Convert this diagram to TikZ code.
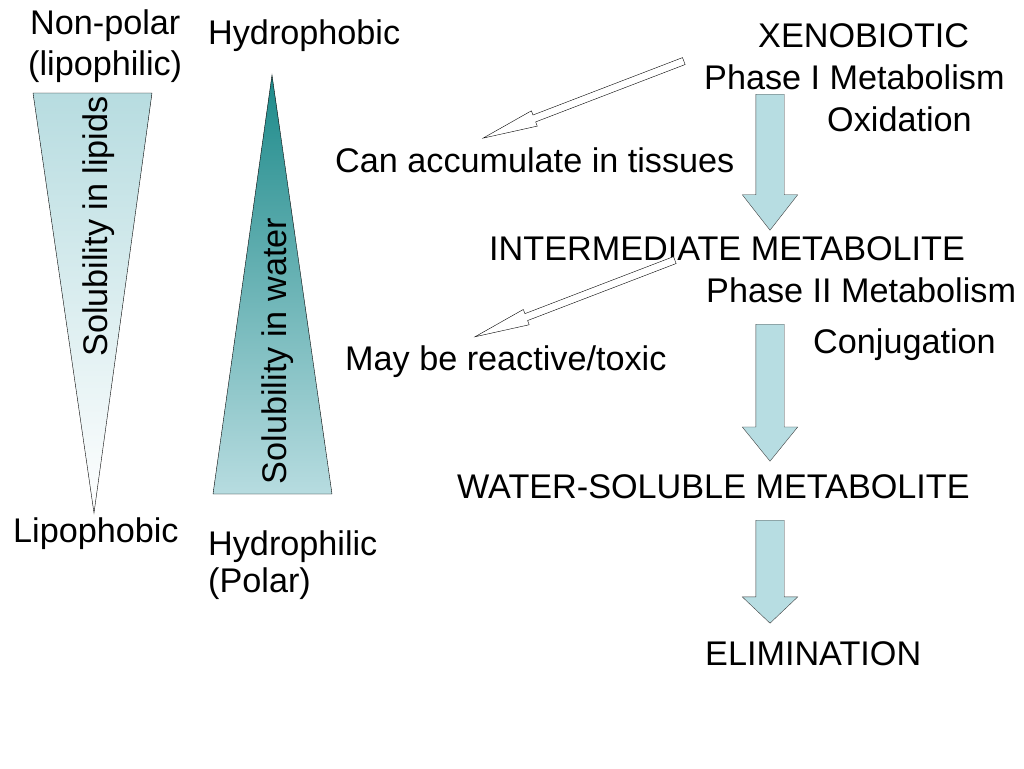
\documentclass[tikz,border=0pt]{standalone}
\usepackage{fontspec}
\setmainfont{Liberation Sans}
\usepackage{tikz}
\usepackage{xcolor}
\usetikzlibrary{shapes.arrows}
\definecolor{arrowblue}{HTML}{B7DDE2}
\definecolor{tealdark}{HTML}{1D8A8A}
\definecolor{teallight}{HTML}{B7DCE0}
\tikzset{
    label-text/.style = {font=\fontsize{34.2}{40}\selectfont, inner sep=0pt, anchor=base west},
    block-arrow/.style = {single arrow, draw=black!75, fill=arrowblue, thin, inner sep=0pt, text height=28pt, text depth=0pt, single arrow head extend=13.5pt, rotate=-90, anchor=tail},
    hollow-arrow/.style = {single arrow, draw=black, fill=white, thin, inner sep=0pt, text height=7pt, text depth=0pt, single arrow head extend=4.5pt, single arrow tip angle=17, anchor=tail},
}

\begin{document}
\begin{tikzpicture}[x=1pt, y=1pt]
\useasboundingbox (0,0) rectangle (1024,-768);

\shadedraw[top color=teallight, bottom color=white, draw=black, thin] (33,-93) -- (152,-93) -- (94,-513) -- cycle;
\shadedraw[top color=tealdark, bottom color=teallight, draw=black, thin] (272,-75) -- (332,-494) -- (213,-494) -- cycle;
\node[label-text, rotate=90, anchor=base] (lipids) at (107,-226.5) {Solubility in lipids};
\node[label-text, rotate=90, anchor=base] (water) at (286,-351) {Solubility in water};

\node[label-text] (nonpolar) at (30,-35) {Non-polar};
\node[label-text] (lipophilic) at (28,-75) {(lipophilic)};
\node[label-text] (hydrophobic) at (208,-45) {Hydrophobic};
\node[label-text] (lipophobic) at (13,-542) {Lipophobic};
\node[label-text] (hydrophilic) at (208,-555) {Hydrophilic};
\node[label-text] (polar) at (208,-592) {(Polar)};

\node[label-text] (xeno) at (758,-48) {XENOBIOTIC};
\node[label-text] (phaseI) at (704,-89) {Phase I Metabolism};
\node[label-text] (oxidation) at (827,-131) {Oxidation};
\node[label-text] (accumulate) at (335,-172) {Can accumulate in tissues};
\node[label-text] (intermediate) at (489,-260) {INTERMEDIATE METABOLITE};
\node[label-text] (phaseII) at (706,-302) {Phase II Metabolism};
\node[label-text] (conjugation) at (813,-353) {Conjugation};
\node[label-text] (toxic) at (345,-370) {May be reactive/toxic};
\node[label-text] (soluble) at (457,-498) {WATER-SOLUBLE METABOLITE};
\node[label-text] (elimination) at (705,-665) {ELIMINATION};

\node[block-arrow, minimum height=136pt, single arrow tip angle=76] (arrowI) at (770,-94) {};
\node[block-arrow, minimum height=137pt, single arrow tip angle=78] (arrowII) at (770,-324) {};
\node[block-arrow, minimum height=103pt, single arrow tip angle=93] (arrowout) at (770,-520) {};

\node[hollow-arrow, minimum height=215pt, rotate=201] (storeup) at (684,-61) {};
\node[hollow-arrow, minimum height=214pt, rotate=201] (reactive) at (675,-260) {};
\end{tikzpicture}
\end{document}
